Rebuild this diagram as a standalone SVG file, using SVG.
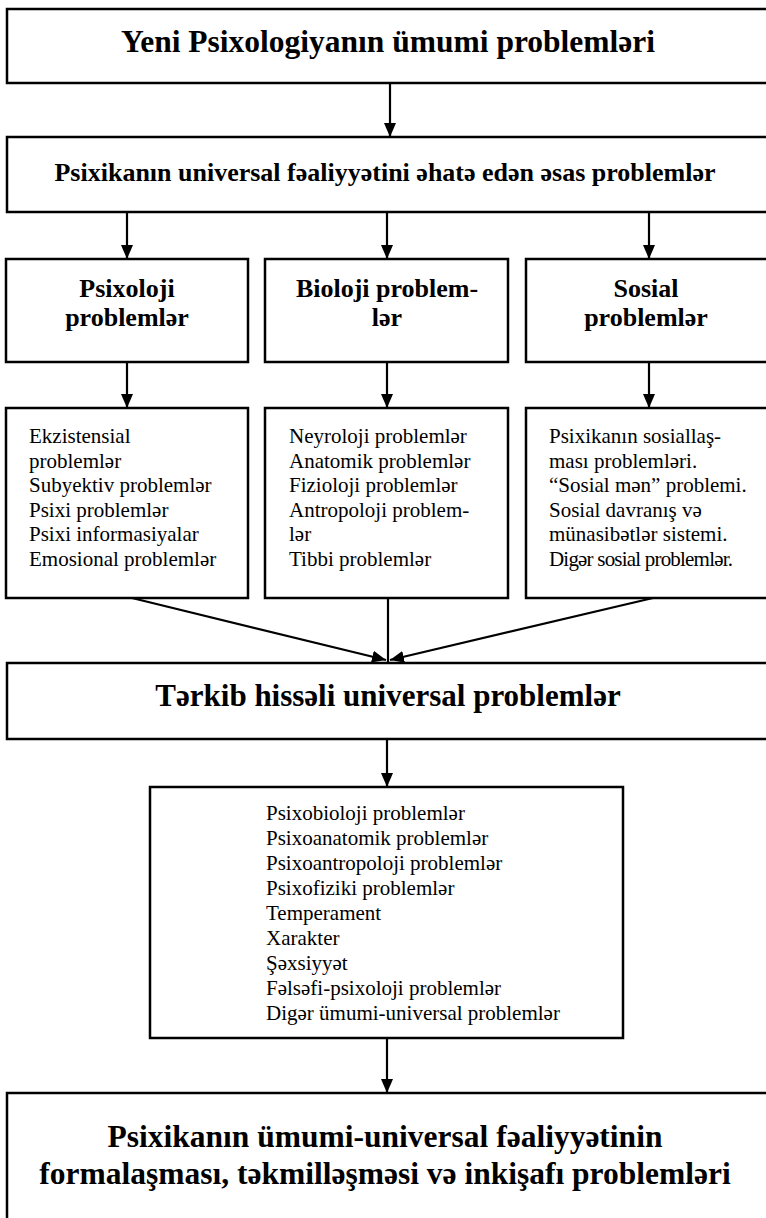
<svg xmlns="http://www.w3.org/2000/svg" width="766" height="1218" viewBox="0 0 766 1218">
<defs>
<style>
.box{fill:#fff;stroke:#000;stroke-width:2.5}
.open{fill:none;stroke:#000;stroke-width:2.5}
.ln{fill:none;stroke:#000;stroke-width:2.2}
.b{font-family:"Liberation Serif","DejaVu Serif","Times New Roman",serif;font-weight:bold;fill:#000;text-anchor:middle}
.r{font-family:"Liberation Serif","DejaVu Serif","Times New Roman",serif;fill:#000;font-size:21px}
</style>
<marker id="ah" markerUnits="userSpaceOnUse" markerWidth="14" markerHeight="14" viewBox="0 0 14 12" refX="14" refY="6" orient="auto">
<path d="M0,0 L14,6 L0,12 Z" fill="#000"/>
</marker>
</defs>
<rect width="766" height="1218" fill="#fff"/>

<g id="n1">
<path class="box" d="M766,9 H7 V83 H766"/>
<text class="b" x="388" y="52" font-size="31.5">Yeni Psixologiyanın ümumi problemləri</text>
</g>

<g id="n2">
<path class="box" d="M766,137 H7 V212 H766"/>
<text class="b" x="385" y="181" font-size="26">Psixikanın universal fəaliyyətini əhatə edən əsas problemlər</text>
</g>

<g id="h1">
<rect class="box" x="6" y="259" width="242" height="103"/>
<text class="b" x="127" y="297" font-size="26">Psixoloji</text>
<text class="b" x="127" y="326" font-size="26">problemlər</text>
</g>
<g id="h2">
<rect class="box" x="265" y="259" width="243" height="103"/>
<text class="b" x="387" y="297" font-size="26">Bioloji problem-</text>
<text class="b" x="387" y="326" font-size="26">lər</text>
</g>
<g id="h3">
<path class="box" d="M766,259 H526 V362 H766"/>
<text class="b" x="646" y="297" font-size="26">Sosial</text>
<text class="b" x="646" y="326" font-size="26">problemlər</text>
</g>

<g id="l1">
<rect class="box" x="6" y="408" width="242" height="190"/>
<text class="r" x="29" y="443">Ekzistensial</text>
<text class="r" x="29" y="467.5">problemlər</text>
<text class="r" x="29" y="492">Subyektiv problemlər</text>
<text class="r" x="29" y="516.5">Psixi problemlər</text>
<text class="r" x="29" y="541">Psixi informasiyalar</text>
<text class="r" x="29" y="565.5">Emosional problemlər</text>
</g>
<g id="l2">
<rect class="box" x="265" y="408" width="243" height="190"/>
<text class="r" x="289" y="443">Neyroloji problemlər</text>
<text class="r" x="289" y="467.5">Anatomik problemlər</text>
<text class="r" x="289" y="492">Fizioloji problemlər</text>
<text class="r" x="289" y="516.5">Antropoloji problem-</text>
<text class="r" x="289" y="541">lər</text>
<text class="r" x="289" y="565.5">Tibbi problemlər</text>
</g>
<g id="l3">
<path class="box" d="M766,408 H526 V598 H766"/>
<text class="r" x="549" y="443">Psixikanın sosiallaş-</text>
<text class="r" x="549" y="467.5">ması problemləri.</text>
<text class="r" x="549" y="492">“Sosial mən” problemi.</text>
<text class="r" x="549" y="516.5">Sosial davranış və</text>
<text class="r" x="549" y="541">münasibətlər sistemi.</text>
<text class="r" x="549" y="565.5" textLength="184" lengthAdjust="spacing">Digər sosial problemlər.</text>
</g>

<g id="n3">
<path class="box" d="M766,663 H7 V739 H766"/>
<text class="b" x="388" y="706" font-size="31">Tərkib hissəli universal problemlər</text>
</g>

<g id="n4">
<rect class="box" x="150" y="787" width="473" height="251"/>
<text class="r" x="266" y="820">Psixobioloji problemlər</text>
<text class="r" x="266" y="845">Psixoanatomik problemlər</text>
<text class="r" x="266" y="870">Psixoantropoloji problemlər</text>
<text class="r" x="266" y="895">Psixofiziki problemlər</text>
<text class="r" x="266" y="920">Temperament</text>
<text class="r" x="266" y="945">Xarakter</text>
<text class="r" x="266" y="970">Şəxsiyyət</text>
<text class="r" x="266" y="995">Fəlsəfi-psixoloji problemlər</text>
<text class="r" x="266" y="1020">Digər ümumi-universal problemlər</text>
</g>

<g id="n5">
<path class="open" d="M766,1093 H7 V1218"/>
<text class="b" x="385" y="1147" font-size="31.5">Psixikanın ümumi-universal fəaliyyətinin</text>
<text class="b" x="385" y="1184" font-size="31.5">formalaşması, təkmilləşməsi və inkişafı problemləri</text>
</g>

<g id="connectors">
<line class="ln" x1="390" y1="83" x2="390" y2="137" marker-end="url(#ah)"/>
<line class="ln" x1="127" y1="212" x2="127" y2="259" marker-end="url(#ah)"/>
<line class="ln" x1="387" y1="212" x2="387" y2="259" marker-end="url(#ah)"/>
<line class="ln" x1="649" y1="212" x2="649" y2="259" marker-end="url(#ah)"/>
<line class="ln" x1="127" y1="362" x2="127" y2="408" marker-end="url(#ah)"/>
<line class="ln" x1="387" y1="362" x2="387" y2="408" marker-end="url(#ah)"/>
<line class="ln" x1="649" y1="362" x2="649" y2="408" marker-end="url(#ah)"/>
<line class="ln" x1="132" y1="598" x2="386" y2="660" marker-end="url(#ah)"/>
<line class="ln" x1="653" y1="598" x2="390" y2="660" marker-end="url(#ah)"/>
<line class="ln" x1="388" y1="598" x2="388" y2="663"/>
<line class="ln" x1="387" y1="739" x2="387" y2="787" marker-end="url(#ah)"/>
<line class="ln" x1="387" y1="1038" x2="387" y2="1093" marker-end="url(#ah)"/>
</g>
</svg>
